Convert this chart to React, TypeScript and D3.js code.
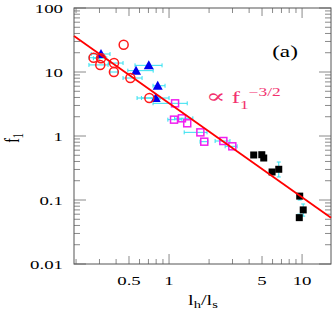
import React from "react";
import * as d3 from "d3";

// red open circles
const circleX = [0.271, 0.308, 0.304, 0.386, 0.385, 0.456, 0.512, 0.711];
const circleY = [16.7, 16.4, 12.9, 13.8, 10.0, 26.7, 8.05, 3.92];
const circleXLo = [0.25, 0.27, 0.25, 0.35, 0.36, null, 0.451, 0.575];
const circleXHi = [0.3, 0.34, 0.348, 0.451, 0.41, null, 0.627, 0.856];

// blue triangles
const triX = [0.308, 0.565, 0.704, 0.822, 0.794];
const triY = [19.1, 10.5, 12.7, 6.1, 3.92];
const triXLo = [0.26, 0.49, 0.555, 0.758, 0.62];
const triXHi = [0.36, 0.76, 0.886, 0.933, 1.0];

// magenta open squares
const sqX = [1.11, 1.09, 1.25, 1.37, 1.72, 1.84, 2.56, 2.99];
const sqY = [3.24, 1.8, 1.89, 1.58, 1.14, 0.815, 0.835, 0.69];
const sqXLo = [0.758, 0.98, 1.1, null, 1.3, 1.71, 2.22, 2.64];
const sqXHi = [1.37, 1.25, 1.51, null, 1.93, 1.96, 2.87, 3.25];

// black filled squares
const blkX = [4.33, 4.98, 5.15, 5.95, 6.68, 9.6, 10.2, 9.53];
const blkY = [0.505, 0.51, 0.453, 0.274, 0.302, 0.115, 0.07, 0.053];
const blkYLo = [null, null, 0.42, null, 0.229, 0.1, 0.056, 0.048];
const blkYHi = [null, null, 0.47, null, 0.392, 0.125, 0.0866, 0.06];

// fitted power law end points
const fitX = [0.193, 16.5];
const fitY = [36.5, 0.053];

const yTickLabels = ["100", "10", "1", "0.1", "0.01"];
const yTickVals = [100, 10, 1, 0.1, 0.01];
const xTickLabels = ["0.5", "1", "5", "10"];
const xTickVals = [0.5, 1, 5, 10];

const SX = 1.45; // text in the original is stretched sideways

export default function App() {
  const left = 74, right = 331, top = 8, bottom = 264;
  const x = d3.scaleLog().domain([0.193, 16.5]).range([left, right]);
  const y = d3.scaleLog().domain([0.01, 100]).range([bottom, top]);

  const tickCol = "#8a8a8a";
  const errCol = "#33e0f0";

  const xMinor = x.ticks().filter((t) => t > 0.195 && t < 16.4);
  const yMinor = y.ticks();

  const xLen = (t: number) => {
    const l = Math.log10(t);
    if (Math.abs(l - Math.round(l)) < 1e-6) return 10;
    if (Math.abs(t / Math.pow(10, Math.floor(l)) - 5) < 1e-6) return 8;
    return 5;
  };
  const yLen = (t: number) => {
    const l = Math.log10(t);
    return Math.abs(l - Math.round(l)) < 1e-6 ? 12 : 6;
  };

  const txt = (
    key: string,
    px: number,
    py: number,
    s: React.ReactNode,
    anchor: string,
    size: number,
    fill = "#000"
  ) => (
    <text
      key={key}
      transform={`translate(${px},${py}) scale(${SX},1)`}
      textAnchor={anchor}
      fontFamily="Liberation Serif, serif"
      fontSize={size}
      fill={fill}
    >
      {s}
    </text>
  );

  const tri = (cx: number, cy: number) => {
    const s = 5;
    return `M${cx},${cy - s} L${cx + s},${cy + s * 0.8} L${cx - s},${cy + s * 0.8} Z`;
  };

  const line = d3
    .line<number>()
    .x((_, i) => x(fitX[i]))
    .y((d) => y(d));

  const hbar = (k: string, lo: number, hi: number, yv: number) => (
    <g key={k}>
      <line x1={x(lo)} x2={x(hi)} y1={y(yv)} y2={y(yv)} />
      <line x1={x(lo)} x2={x(lo)} y1={y(yv) - 2} y2={y(yv) + 2} />
      <line x1={x(hi)} x2={x(hi)} y1={y(yv) - 2} y2={y(yv) + 2} />
    </g>
  );

  return (
    <svg width={333} height={315} style={{ position: "absolute", left: 0, top: 0 }}>
      <rect width={333} height={315} fill="#fff" />
      {xMinor.map((t, i) => (
        <g key={"xt" + i} stroke={tickCol} strokeWidth={1}>
          <line x1={x(t)} x2={x(t)} y1={bottom} y2={bottom - xLen(t)} />
          <line x1={x(t)} x2={x(t)} y1={top} y2={top + xLen(t)} />
        </g>
      ))}
      {yMinor.map((t, i) => (
        <g key={"yt" + i} stroke={tickCol} strokeWidth={1}>
          <line x1={left} x2={left + yLen(t)} y1={y(t)} y2={y(t)} />
          <line x1={right} x2={right - yLen(t)} y1={y(t)} y2={y(t)} />
        </g>
      ))}
      <rect x={left} y={top} width={right - left} height={bottom - top} fill="none" stroke="#555" strokeWidth={1} />

      {yTickVals.map((v, i) => txt("yl" + i, 63, y(v) + 4.5, yTickLabels[i], "end", 13))}
      {xTickVals.map((v, i) => txt("xl" + i, x(v), 285, xTickLabels[i], "middle", 13))}

      {txt(
        "xlab",
        203,
        305,
        <>
          l<tspan fontSize={10} dy={3}>h</tspan>
          <tspan dy={-3}>/l</tspan>
          <tspan fontSize={10} dy={3}>s</tspan>
        </>,
        "middle",
        14
      )}
      <text
        transform={`translate(19,138) rotate(-90) scale(1,${SX})`}
        textAnchor="middle"
        fontFamily="Liberation Serif, serif"
        fontSize={14}
      >
        f<tspan fontSize={10} dy={3}>1</tspan>
      </text>

      {txt("a", 285, 57, "(a)", "middle", 16)}
      {txt(
        "law",
        206,
        103,
        <>
          <tspan fontFamily="DejaVu Serif, serif" fontSize={20}>∝</tspan> f
          <tspan fontSize={12} dy={6}>1</tspan>
          <tspan fontSize={12} dy={-13}>−3/2</tspan>
        </>,
        "start",
        17,
        "#f2306e"
      )}

      {/* error bars */}
      <g stroke={errCol} strokeWidth={1}>
        {circleX.map((v, i) =>
          circleXLo[i] == null ? null : hbar("ce" + i, circleXLo[i] as number, circleXHi[i] as number, circleY[i])
        )}
        {triX.map((v, i) => hbar("te" + i, triXLo[i], triXHi[i], triY[i]))}
        {sqX.map((v, i) =>
          sqXLo[i] == null ? null : hbar("se" + i, sqXLo[i] as number, sqXHi[i] as number, sqY[i])
        )}
        {blkX.map((v, i) =>
          blkYLo[i] == null ? null : (
            <g key={"be" + i}>
              <line x1={x(v)} x2={x(v)} y1={y(blkYLo[i] as number)} y2={y(blkYHi[i] as number)} />
              <line x1={x(v) - 2} x2={x(v) + 2} y1={y(blkYLo[i] as number)} y2={y(blkYLo[i] as number)} />
              <line x1={x(v) - 2} x2={x(v) + 2} y1={y(blkYHi[i] as number)} y2={y(blkYHi[i] as number)} />
            </g>
          )
        )}
      </g>

      {triX.map((v, i) => (
        <path key={"t" + i} d={tri(x(v), y(triY[i]))} fill="#0000ee" />
      ))}
      {circleX.map((v, i) => (
        <circle key={"c" + i} cx={x(v)} cy={y(circleY[i])} r={4.5} fill="none" stroke="#ff1a1a" strokeWidth={1.5} />
      ))}
      {sqX.map((v, i) => (
        <rect key={"s" + i} x={x(v) - 3.5} y={y(sqY[i]) - 3.5} width={7} height={7} fill="none" stroke="#f020f0" strokeWidth={1.5} />
      ))}
      {blkX.map((v, i) => (
        <rect key={"b" + i} x={x(v) - 3.5} y={y(blkY[i]) - 3.5} width={7} height={7} fill="#000" />
      ))}

      <path d={line(fitY) || ""} fill="none" stroke="#ff0000" strokeWidth={1.8} />
    </svg>
  );
}
